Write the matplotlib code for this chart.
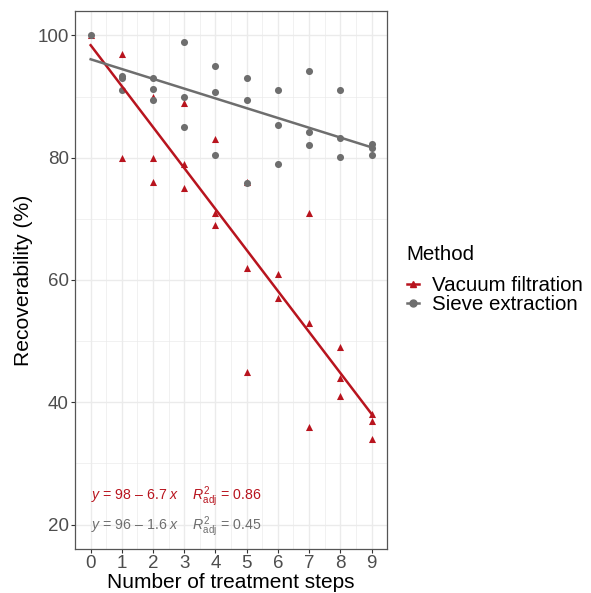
import numpy as np
from matplotlib import pyplot as plt
from matplotlib.lines import Line2D

plt.rcParams.update({"font.family": ["Liberation Sans", "DejaVu Sans"],
                     "mathtext.fontset": "custom",
                     "mathtext.rm": "Liberation Sans",
                     "mathtext.it": "Liberation Sans:italic"})

# Vacuum filtration (red triangles)
vac_steps = [0, 1, 1, 2, 2, 2, 3, 3, 3, 4, 4, 4, 5, 5, 5, 6, 6, 7, 7, 7, 8, 8, 8, 9, 9, 9]
vac_recov = [100, 97, 80, 90, 80, 76, 89, 79, 75, 83, 71, 69, 76, 62, 45, 61, 57,
             71, 53, 36, 49, 44, 41, 38, 37, 34]

# Sieve extraction (grey circles)
sie_steps = [0, 1, 1, 1, 2, 2, 2, 3, 3, 3, 4, 4, 4, 5, 5, 5, 6, 6, 6, 7, 7, 7,
             8, 8, 8, 9, 9, 9]
sie_recov = [100, 93.4, 93, 91, 93, 91.3, 89.5, 99, 90, 85, 95, 90.7, 80.4,
             93, 89.5, 75.9, 91.1, 85.3, 78.9, 94.1, 84.2, 82.1, 91.1, 83.3, 80.1,
             82.3, 81.6, 80.4]

# fitted lines
fit_intercept = [98.4, 96.1]
fit_slope = [-6.7, -1.6]

methods = ["Vacuum filtration", "Sieve extraction"]
colors = ["#B8141E", "#6E6E6E"]
eq_labels = [r"$y$ = 98 – 6.7 $x$    $R^2_{\mathrm{adj}}$ = 0.86",
             r"$y$ = 96 – 1.6 $x$    $R^2_{\mathrm{adj}}$ = 0.45"]

fig = plt.figure(figsize=[5.91, 5.93], dpi=100)
ax = fig.add_axes([0.127, 0.0742, 0.528, 0.9073])

ax.set_xlim(-0.45, 9.45)
ax.set_ylim(16, 104)
ax.set_xticks(range(10))
ax.set_xticks(np.arange(-0.5, 9.6, 0.5), minor=True)
ax.set_yticks([20, 40, 60, 80, 100])
ax.set_yticks([30, 50, 70, 90], minor=True)
ax.grid(True, which="major", color="#EBEBEB", linewidth=1.0, zorder=0)
ax.grid(True, which="minor", color="#EBEBEB", linewidth=0.5, zorder=0)
ax.set_axisbelow(True)
for s in ax.spines.values():
    s.set_color("#555555")
    s.set_linewidth(0.9)
ax.tick_params(which="major", length=3, pad=1.5, color="#333333", labelsize=13.5,
               labelcolor="#4D4D4D", width=0.8)
ax.tick_params(which="minor", length=0)

data = [(vac_steps, vac_recov, "^"), (sie_steps, sie_recov, "o")]
for i, ((xs, ys, m), col) in enumerate(zip(data, colors)):
    ax.scatter(xs, ys, marker=m, s=26, color=col, linewidths=0, zorder=3)
    xx = np.array([0, 9])
    ax.plot(xx, fit_intercept[i] + fit_slope[i] * xx, color=col, lw=1.8, zorder=4)

ax.text(0, 24.6, eq_labels[0], color=colors[0], fontsize=10.2, va="center")
ax.text(0, 19.6, eq_labels[1], color=colors[1], fontsize=10.2, va="center")

ax.set_xlabel("Number of treatment steps", fontsize=15, labelpad=0)
ax.xaxis.set_label_coords(0.5, -0.045)
ax.set_ylabel("Recoverability (%)", fontsize=15.2, labelpad=3.5)

fig.text(406 / 591, 1 - 255 / 593, "Method", fontsize=14.8, va="center", ha="left")
handles = [Line2D([0], [0], color=colors[0], marker="^", markersize=5, lw=1.8),
           Line2D([0], [0], color=colors[1], marker="o", markersize=5, lw=1.8)]
fig.legend(handles, methods, loc="upper left",
           bbox_to_anchor=(407 / 591, 1 - 276 / 593), frameon=False, fontsize=14.8,
           handlelength=0.6, handletextpad=0.6, labelspacing=0.0,
           borderpad=0, borderaxespad=0)

plt.savefig("out.png", dpi=100)
